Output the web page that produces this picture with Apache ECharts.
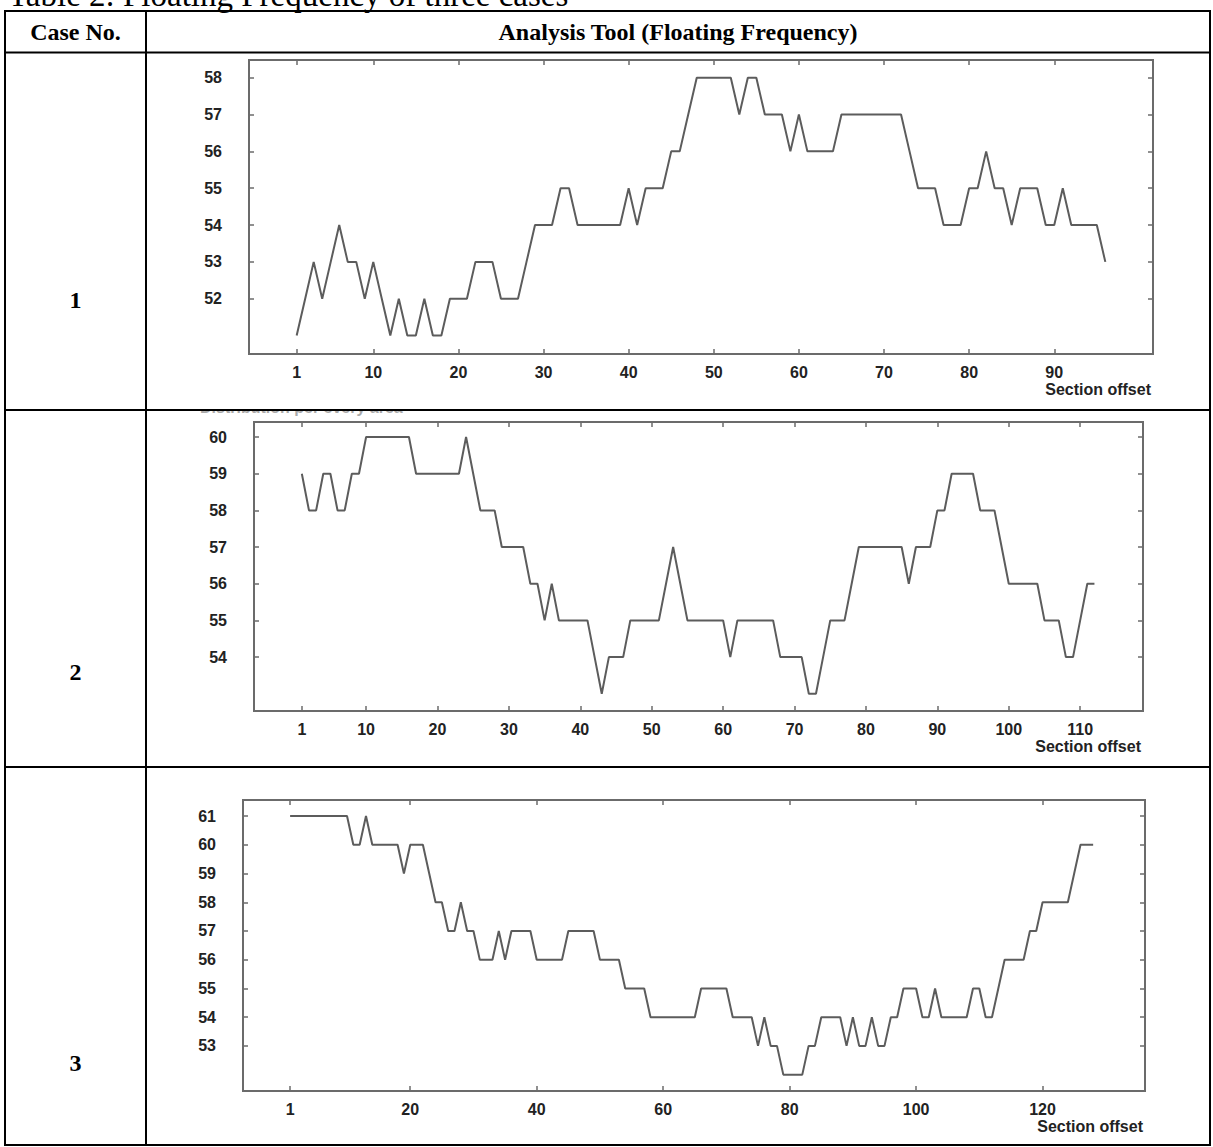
<!DOCTYPE html>
<html>
<head>
<meta charset="utf-8">
<title>Table 2: Floating Frequency of three cases</title>
<script src="https://cdn.jsdelivr.net/npm/echarts@6.0.0/dist/echarts.min.js"></script>
<style>
    html, body { margin: 0; padding: 0; background: #fff; }
    #main { width: 1213px; height: 1147px; }
</style>
</head>
<body>
<div id="main"></div>
<script>
/************************    数据    ****************************/
var caseNo = ['1', '2', '3'];

// floating frequency, section offset starts at 1
var case1 = [51, 52, 53, 52, 53, 54, 53, 53, 52, 53,
             52, 51, 52, 51, 51, 52, 51, 51, 52, 52,
             52, 53, 53, 53, 52, 52, 52, 53, 54, 54,
             54, 55, 55, 54, 54, 54, 54, 54, 54, 55,
             54, 55, 55, 55, 56, 56, 57, 58, 58, 58,
             58, 58, 57, 58, 58, 57, 57, 57, 56, 57,
             56, 56, 56, 56, 57, 57, 57, 57, 57, 57,
             57, 57, 56, 55, 55, 55, 54, 54, 54, 55,
             55, 56, 55, 55, 54, 55, 55, 55, 54, 54,
             55, 54, 54, 54, 54, 53];

var case2 = [59, 58, 58, 59, 59, 58, 58, 59, 59, 60,
             60, 60, 60, 60, 60, 60, 59, 59, 59, 59,
             59, 59, 59, 60, 59, 58, 58, 58, 57, 57,
             57, 57, 56, 56, 55, 56, 55, 55, 55, 55,
             55, 54, 53, 54, 54, 54, 55, 55, 55, 55,
             55, 56, 57, 56, 55, 55, 55, 55, 55, 55,
             54, 55, 55, 55, 55, 55, 55, 54, 54, 54,
             54, 53, 53, 54, 55, 55, 55, 56, 57, 57,
             57, 57, 57, 57, 57, 56, 57, 57, 57, 58,
             58, 59, 59, 59, 59, 58, 58, 58, 57, 56,
             56, 56, 56, 56, 55, 55, 55, 54, 54, 55,
             56, 56];

var case3 = [61, 61, 61, 61, 61, 61, 61, 61, 61, 61,
             60, 60, 61, 60, 60, 60, 60, 60, 59, 60,
             60, 60, 59, 58, 58, 57, 57, 58, 57, 57,
             56, 56, 56, 57, 56, 57, 57, 57, 57, 56,
             56, 56, 56, 56, 57, 57, 57, 57, 57, 56,
             56, 56, 56, 55, 55, 55, 55, 54, 54, 54,
             54, 54, 54, 54, 54, 55, 55, 55, 55, 55,
             54, 54, 54, 54, 53, 54, 53, 53, 52, 52,
             52, 52, 53, 53, 54, 54, 54, 54, 53, 54,
             53, 53, 54, 53, 53, 54, 54, 55, 55, 55,
             54, 54, 55, 54, 54, 54, 54, 54, 55, 55,
             54, 54, 55, 56, 56, 56, 56, 57, 57, 58,
             58, 58, 58, 58, 59, 60, 60, 60];

var xTicks1 = [1, 10, 20, 30, 40, 50, 60, 70, 80, 90];
var xTicks2 = [1, 10, 20, 30, 40, 50, 60, 70, 80, 90, 100, 110];
var xTicks3 = [1, 20, 40, 60, 80, 100, 120];
var yTicks1 = [52, 53, 54, 55, 56, 57, 58];
var yTicks2 = [54, 55, 56, 57, 58, 59, 60];
var yTicks3 = [53, 54, 55, 56, 57, 58, 59, 60, 61];

var xName = 'Section offset';
var titleText = 'Table 2: Floating Frequency of three cases';
var headText = ['Case No.', 'Analysis Tool (Floating Frequency)'];

/************************    版式    ****************************/
var grids = [
    { left: 249, top: 60, width: 904, height: 294 },
    { left: 254, top: 422, width: 889, height: 289 },
    { left: 243, top: 800, width: 902, height: 291 }
];
var xRange = [[-4.6, 101.6], [-5.7, 118.8], [-6.45, 136.2]];
var yRange = [[50.5, 58.48], [52.53, 60.41], [51.43, 61.56]];

var T = { left: 5, right: 1210, top: 11, head: 52.5, rows: [410, 767], bottom: 1145, col: 146 };
var rowLabelY = [300, 672, 1063];

var lineColor = '#5c5c5c';
var frameColor = '#6b6b6b';
var labelFont = { color: '#222', fontFamily: '"Liberation Sans", Arial, sans-serif', fontWeight: 'bold', fontSize: 16 };

/************************    坐标轴    ****************************/
function xAxisOf(i, ticks, top) {
    return {
        type: 'value', gridIndex: i, position: top ? 'top' : 'bottom',
        min: xRange[i][0], max: xRange[i][1],
        axisLine: { show: false, onZero: false },
        splitLine: { show: false },
        axisTick: { show: true, inside: true, length: 5, customValues: ticks,
                    lineStyle: { color: frameColor, width: 1.5 } },
        axisLabel: Object.assign({ show: !top, customValues: ticks, margin: 10 }, labelFont),
        name: top ? '' : xName,
        nameLocation: 'end', nameGap: -2,
        nameTextStyle: Object.assign({ align: 'right', verticalAlign: 'top', padding: [27, 0, 0, 0] }, labelFont)
    };
}
function yAxisOf(i, ticks, right) {
    return {
        type: 'value', gridIndex: i, position: right ? 'right' : 'left',
        min: yRange[i][0], max: yRange[i][1],
        axisLine: { show: false, onZero: false },
        splitLine: { show: false },
        axisTick: { show: true, inside: true, length: 5, customValues: ticks,
                    lineStyle: { color: frameColor, width: 1.5 } },
        axisLabel: Object.assign({ show: !right, customValues: ticks, margin: 27 }, labelFont)
    };
}
function toPairs(arr) {
    return arr.map(function (v, i) { return [i + 1, v]; });
}

var cases = [case1, case2, case3];
var xTicks = [xTicks1, xTicks2, xTicks3];
var yTicks = [yTicks1, yTicks2, yTicks3];

var xAxes = [], yAxes = [], series = [];
cases.forEach(function (c, i) {
    xAxes.push(xAxisOf(i, xTicks[i], false), xAxisOf(i, xTicks[i], true));
    yAxes.push(yAxisOf(i, yTicks[i], false), yAxisOf(i, yTicks[i], true));
    series.push({
        type: 'line', xAxisIndex: i * 2, yAxisIndex: i * 2,
        data: toPairs(c), symbol: 'none', silent: true,
        lineStyle: { color: lineColor, width: 2 }
    });
});

/************************    表格    ****************************/
function hLine(y) {
    return { type: 'line', z: 20, shape: { x1: T.left - 1, y1: y, x2: T.right + 1, y2: y },
             style: { stroke: '#000', lineWidth: 2 } };
}
function vLine(x) {
    return { type: 'line', z: 20, shape: { x1: x, y1: T.top, x2: x, y2: T.bottom },
             style: { stroke: '#000', lineWidth: 2 } };
}
function cellText(txt, x, y, size) {
    return { type: 'text', z: 20, x: x, y: y,
             style: { text: txt, align: 'center', verticalAlign: 'middle', fill: '#000',
                      font: 'bold ' + size + 'px "Liberation Serif", "Times New Roman", serif' } };
}

var graphics = [
    { type: 'text', z: 5, x: 8, y: -5,
      style: { text: titleText, verticalAlign: 'middle', fill: '#000',
               font: '33px "Liberation Serif", "Times New Roman", serif' } },
    // clipped caption above case 2 plot
    { type: 'text', z: 5, x: 200, y: 407,
      style: { text: 'Distribution per every area', verticalAlign: 'middle', fill: '#aaa',
               font: 'bold 16px "Liberation Sans", Arial, sans-serif' } },
    { type: 'rect', z: 10, shape: { x: 190, y: 392, width: 260, height: 18 }, style: { fill: '#fff' } },
    hLine(T.top), hLine(T.head), hLine(T.rows[0]), hLine(T.rows[1]), hLine(T.bottom),
    vLine(T.left), vLine(T.col), vLine(T.right),
    cellText(headText[0], (T.left + T.col) / 2, (T.top + T.head) / 2, 24),
    cellText(headText[1], (T.col + T.right) / 2, (T.top + T.head) / 2, 24)
];
caseNo.forEach(function (n, i) {
    graphics.push(cellText(n, (T.left + T.col) / 2, rowLabelY[i], 24));
});

/************************    渲染    ****************************/
var chart = echarts.init(document.getElementById('main'), null, { renderer: 'svg' });
chart.setOption({
    animation: false,
    backgroundColor: '#fff',
    grid: grids.map(function (g) {
        return Object.assign({ show: true, borderColor: frameColor, borderWidth: 2,
                               backgroundColor: 'transparent', containLabel: false,
                               outerBoundsMode: 'none' }, g);
    }),
    xAxis: xAxes,
    yAxis: yAxes,
    series: series,
    graphic: graphics
});
</script>
</body>
</html>
